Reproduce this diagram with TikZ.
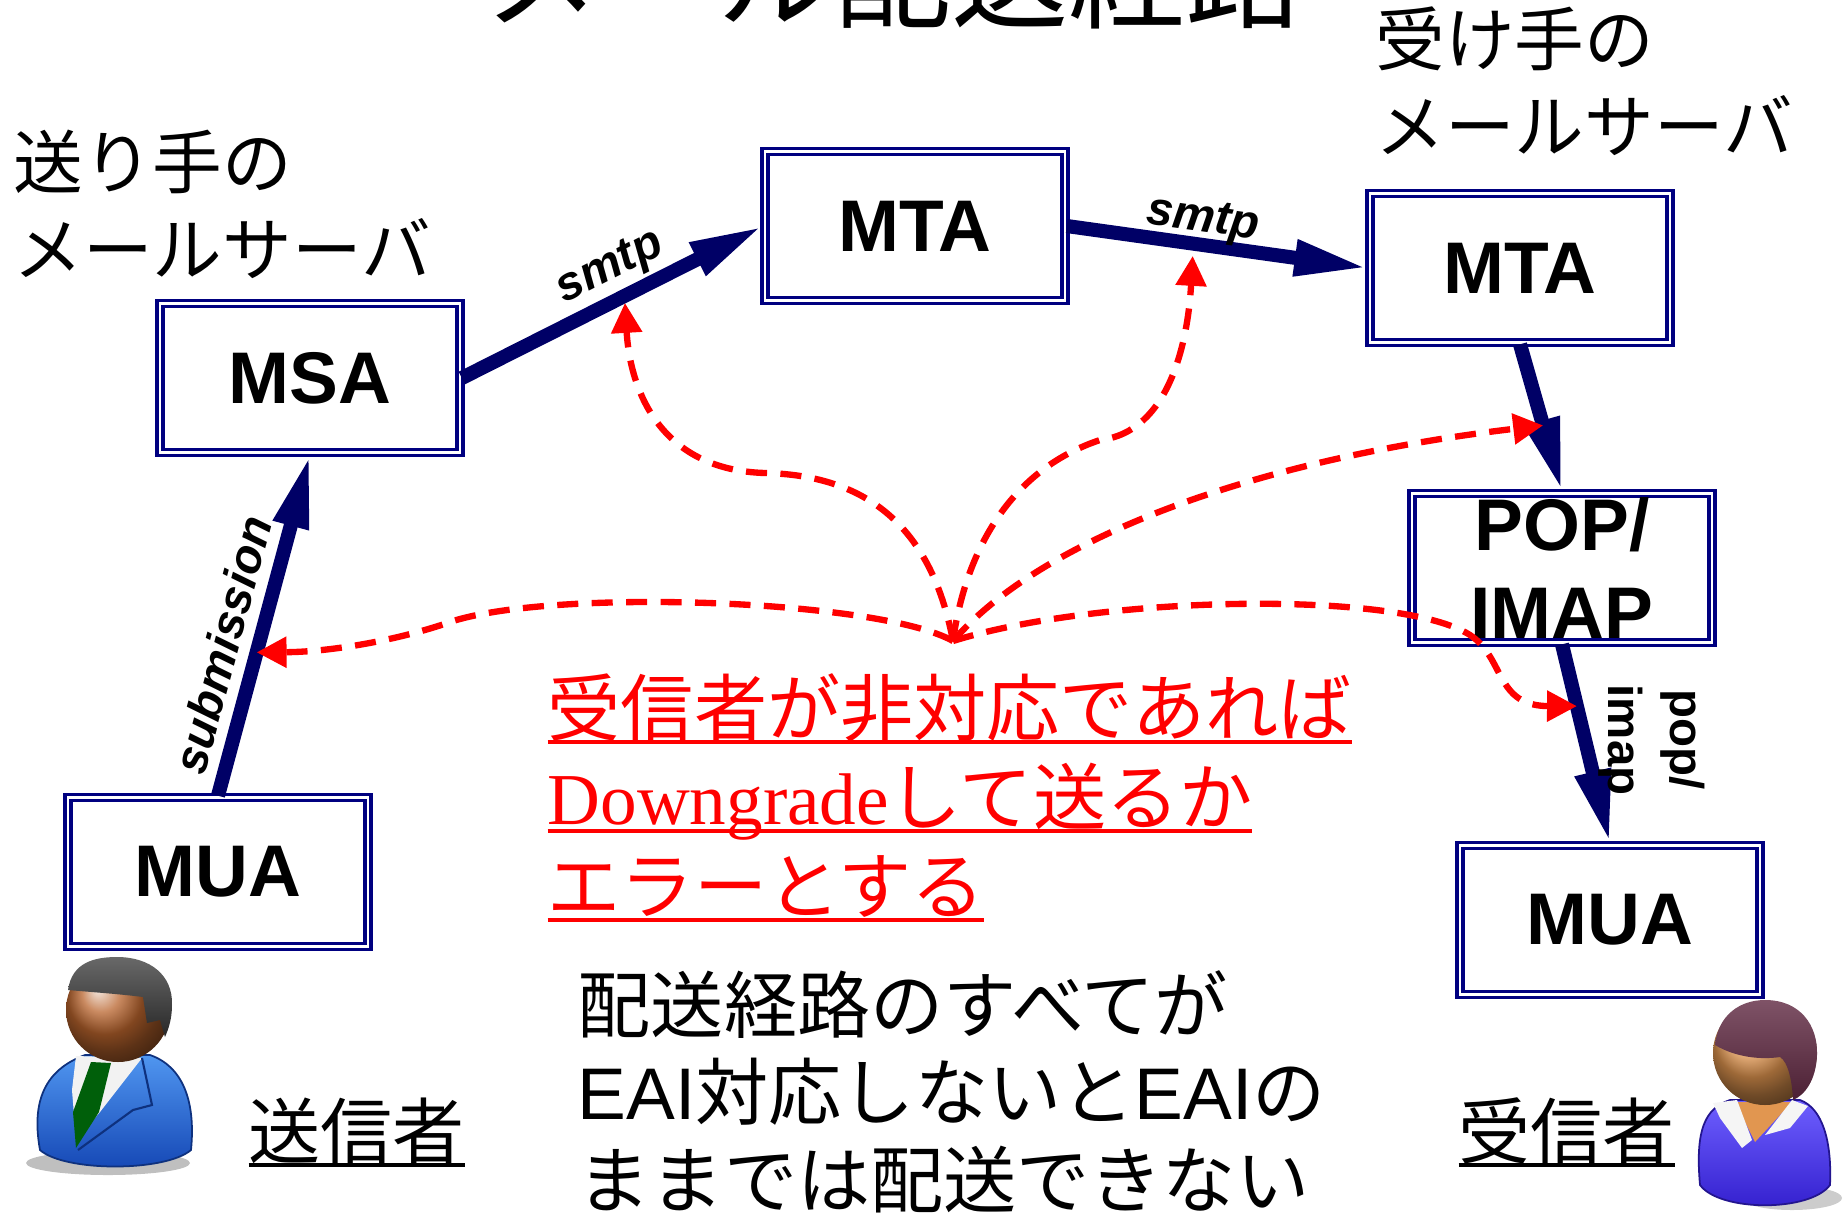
\documentclass[tikz,border=0pt]{standalone}
\usepackage{fontspec}
\setmainfont{Liberation Sans}
\newfontfamily\jp{Noto Sans CJK JP}
\newfontfamily\lserif{Liberation Serif}
\usetikzlibrary{arrows.meta}

\definecolor{boxblue}{RGB}{0,0,128}
\definecolor{flowblue}{RGB}{0,0,102}
\definecolor{suitlight}{RGB}{80,150,240}
\definecolor{suitdark}{RGB}{20,70,180}
\definecolor{tiegreen}{RGB}{0,95,10}
\definecolor{skindark}{RGB}{185,100,45}
\definecolor{skinlight}{RGB}{225,150,80}
\definecolor{blouselight}{RGB}{110,95,255}
\definecolor{blousedark}{RGB}{50,30,205}
\definecolor{hairdark}{RGB}{40,40,40}
\definecolor{hairred}{RGB}{95,40,65}

\newcommand{\ulx}[1]{\setbox0=\hbox{#1}\rlap{\rule[-2.6pt]{\wd0}{1.1pt}}\box0}

\tikzset{
  agent/.style={draw=boxblue, line width=1pt, double=white, double distance=0.7pt,
    minimum width=3cm, minimum height=1.49cm, inner sep=0pt, align=center,
    font=\fontsize{20.8}{25}\selectfont\bfseries},
  flow/.style={flowblue, line width=4pt, -{Triangle[length=21pt,width=9.5pt]}},
  proto/.style={text=black, inner sep=1pt, font=\fontsize{13.5}{17.5}\selectfont\bfseries\itshape},
  fallback/.style={red, line width=1.8pt, dash pattern=on 6pt off 3.8pt,
    -{Triangle[length=8.5pt,width=8.5pt]}},
  jtext/.style={anchor=base west, inner sep=0pt, align=left,
    font=\jp\fontsize{19.8}{24.5}\selectfont}
}

\begin{document}
\begin{tikzpicture}[x=0.01cm, y=-0.01cm]
    \useasboundingbox (0,0) rectangle (1845,1217);

    \node (title) [anchor=base, inner sep=0pt, font=\jp\fontsize{33.3}{40}\selectfont] at (893,19) {メール配送経路};

    \node (msa)  [agent] at (310,378)  {MSA};
    \node (mta1) [agent] at (915,226)  {MTA};
    \node (mta2) [agent] at (1520,268) {MTA};
    \node (pop)  [agent] at (1562,568) {POP/\\IMAP};
    \node (mua1) [agent] at (218,872)  {MUA};
    \node (mua2) [agent] at (1610,920) {MUA};

    \node (sndsrv) [jtext] at (13,275) {送り手の\\メールサーバ};
    \node (rcvsrv) [jtext] at (1375,152) {受け手の\\メールサーバ};
    \node (sender)   [jtext, font=\jp\fontsize{20.5}{24.8}\selectfont] at (248,1158)  {\ulx{送信者}};
    \node (receiver) [jtext, font=\jp\fontsize{20.5}{24.8}\selectfont] at (1458,1158) {\ulx{受信者}};
    \node (warn) [jtext, red, font=\jp\fontsize{20.8}{25.3}\selectfont] at (547,913)
        {\ulx{受信者が非対応であれば}\\\ulx{{\lserif Downgrade}して送るか}\\\ulx{エラーとする}};
    \node (note) [jtext, font=\jp\fontsize{20.8}{24.8}\selectfont] at (577,1207)
        {配送経路のすべてが\\{\rmfamily EAI}対応しないと{\rmfamily EAI}の\\ままでは配送できない};

    \draw[flow] (mua1.north) -- node[proto, sloped, above=2pt, pos=.415] (sublbl) {submission} coordinate[pos=.42] (subhit) (msa.south);
    \draw[flow] (msa.east) -- node[proto, sloped, above=0pt, pos=.54] (smtplbl1) {smtp} coordinate[pos=.54] (smtphit1) (mta1.west);
    \draw[flow] (mta1.east) -- node[proto, sloped, above=-2pt, pos=.44] (smtplbl2) {smtp} coordinate[pos=.42] (smtphit2) (mta2.west);
    \draw[flow] (mta2.south) -- coordinate[pos=.55] (pophit) (pop.north);
    \draw[flow] (pop.south) -- coordinate[pos=.31] (muahit) (mua2.north);
    \node (poplbl) [proto, font=\fontsize{13.5}{17.5}\selectfont\bfseries, rotate=-90, align=center] at (1652,740) {pop/\\imap};

    \coordinate (src) at (953,641);
    \draw[fallback] (src) .. controls (880,600) and (560,588) .. (453,621) .. controls (400,640) and (330,652) .. (subhit);
    \draw[fallback, shorten >=2pt] (src) .. controls (930,520) and (860,475) .. (765,473) .. controls (660,470) and (630,390) .. (smtphit1);
    \draw[fallback, shorten >=3.5pt] (src) .. controls (962,575) and (995,475) .. (1100,440) .. controls (1170,432) and (1188,340) .. (smtphit2);
    \draw[fallback] (src) .. controls (1040,540) and (1250,460) .. (pophit);
    \draw[fallback] (src) .. controls (1100,595) and (1400,590) .. (1470,635) .. controls (1505,658) and (1495,706) .. (muahit);

    \fill[black!25] (108,1163) ellipse [x radius=82, y radius=12];
    \shade[top color=suitlight, bottom color=suitdark, draw=suitdark!70!black, line width=0.5pt]
        (40,1150) .. controls (30,1095) and (50,1068) .. (85,1055) -- (150,1055) .. controls (182,1066) and (196,1100) .. (191,1150) .. controls (165,1172) and (65,1172) .. (40,1150) -- cycle;
    \fill[white!90!gray] (76,1056) -- (142,1058) -- (100,1112) -- (76,1140) -- (72,1090) -- cycle;
    \fill[tiegreen] (91,1062) -- (111,1063) -- (99,1112) -- (76,1148) -- (73,1112) -- cycle;
    \draw[suitdark!70!black, line width=0.6pt] (142,1058) -- (152,1105) -- (133,1110) -- (78,1150);
    \shade[ball color=skindark] (118,1010) circle [radius=52];
    \shade[top color=hairdark!70!white, bottom color=hairdark]
        (68,990) .. controls (72,962) and (95,957) .. (117,957) .. controls (150,957) and (173,975) .. (172,1005) .. controls (172,1020) and (168,1030) .. (165,1037) -- (160,1020) -- (147,1023) -- (143,997) .. controls (120,994) and (90,992) .. (68,990) -- cycle;

    \fill[black!20] (1792,1198) ellipse [x radius=50, y radius=12];
    \shade[top color=blouselight, bottom color=blousedark, draw=blousedark!70!black, line width=0.5pt]
        (1700,1185) .. controls (1695,1130) and (1705,1108) .. (1730,1100) -- (1800,1100) .. controls (1822,1108) and (1832,1140) .. (1830,1185) .. controls (1810,1212) and (1720,1212) .. (1700,1185) -- cycle;
    \fill[skinlight] (1735,1102) -- (1792,1102) -- (1755,1142) -- cycle;
    \fill[white!92!gray] (1713,1103) -- (1737,1100) -- (1752,1140) -- (1742,1148) -- (1720,1118) -- cycle;
    \fill[white!92!gray] (1792,1100) -- (1808,1106) -- (1790,1128) -- (1765,1135) -- cycle;
    \shade[ball color=skinlight] (1765,1053) circle [radius=52];
    \shade[top color=hairred!80!white, bottom color=hairred!80!black]
        (1715,1045) .. controls (1718,1015) and (1740,1000) .. (1765,1000) .. controls (1800,1000) and (1818,1025) .. (1817,1055) .. controls (1816,1080) and (1805,1095) .. (1793,1100) .. controls (1792,1080) and (1788,1062) .. (1780,1057) .. controls (1760,1060) and (1735,1057) .. (1715,1045) -- cycle;
\end{tikzpicture}
\end{document}
